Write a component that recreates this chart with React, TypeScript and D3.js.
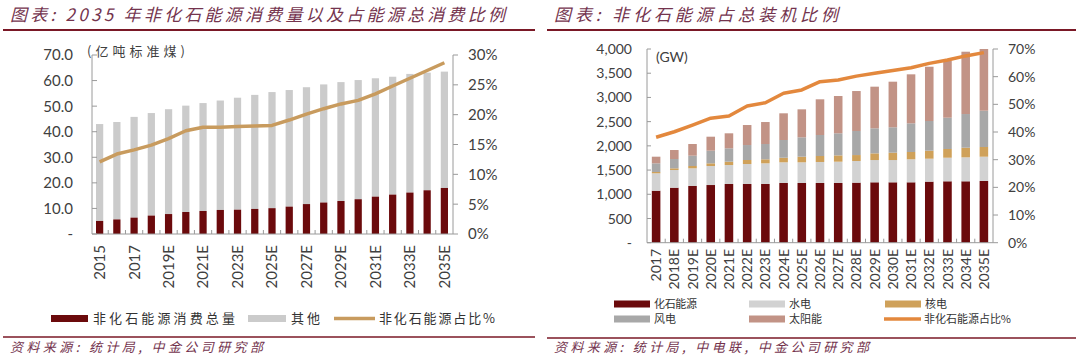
import React from 'react';
import * as d3 from 'd3';

// ---------- Left chart data ----------
const yearsL = ['2015','2016','2017','2018','2019E','2020E','2021E','2022E','2023E','2024E','2025E','2026E','2027E','2028E','2029E','2030E','2031E','2032E','2033E','2034E','2035E'];
const nonFossilL = [5.1,5.7,6.4,7.2,7.8,8.6,9.0,9.4,9.5,9.8,10.1,10.7,11.7,12.3,12.9,13.6,14.6,15.4,16.2,17.1,18.0];
const otherL = [37.9,38.1,39.4,40.1,41.0,41.6,42.2,42.8,43.8,44.6,45.4,45.6,45.7,46.2,46.5,46.6,46.3,46.1,46.4,46.0,45.5];
const shareL = [12.1,13.4,14.1,14.9,16.0,17.3,17.9,17.9,18.0,18.1,18.2,19.1,20.1,21.0,21.8,22.4,23.5,24.8,26.1,27.4,28.7];
const yTicksL = [0,10,20,30,40,50,60,70];
const y2TicksL = [0,5,10,15,20,25,30];

// ---------- Right chart data ----------
const yearsR = ['2017','2018E','2019E','2020E','2021E','2022E','2023E','2024E','2025E','2026E','2027E','2028E','2029E','2030E','2031E','2032E','2033E','2034E','2035E'];
const fossilR = [1074,1136,1171,1191,1212,1212,1212,1233,1233,1233,1233,1240,1247,1247,1247,1261,1268,1268,1275];
const hydroR = [359,365,365,393,392,413,427,427,427,434,440,447,460,460,475,474,487,495,501];
const nuclearR = [27,35,48,55,69,83,83,95,116,123,130,123,138,152,151,165,180,199,200];
const windR = [179,192,213,261,276,309,316,366,400,434,456,497,517,524,592,613,646,695,750];
const solarR = [137,186,241,289,310,413,454,551,578,737,770,825,860,942,1012,1121,1177,1287,1274];
const shareR = [38.1,40.1,42.5,45.0,45.8,49.4,50.6,54.0,55.2,58.2,58.8,60.2,61.2,62.2,63.2,64.8,66.0,67.5,68.7];
const yTicksR = [0,500,1000,1500,2000,2500,3000,3500,4000];
const y2TicksR = [0,10,20,30,40,50,60,70];

const C = {
  dark: '#6B0A0C',
  gray: '#CBCBCB',
  gold: '#C89B5E',
  hydro: '#D2D2D2',
  nuclear: '#CFA15A',
  wind: '#A8A8A8',
  solar: '#C29386',
  orange: '#E3883D',
  axis: '#9A9A9A',
  label: '#404040',
  title: '#74344E',
  rule: '#7A1826',
};
const NUM = 'Lato, "Noto Sans", sans-serif';
const CJK = '"Noto Sans CJK SC", sans-serif';

function LeftChart() {
  const x = d3.scaleBand<string>().domain(yearsL).range([91, 453]).paddingInner(0.58).paddingOuter(0.29);
  const y = d3.scaleLinear().domain([0, 70]).range([234, 55]);
  const y2 = d3.scaleLinear().domain([0, 30]).range([234, 55]);
  const bw = x.bandwidth();
  const cx = (d: string) => (x(d) as number) + bw / 2;
  const line = d3.line<number>().x((_, i) => cx(yearsL[i])).y(d => y2(d));
  const step = x.step();
  return (
    <g>
      {yearsL.map((yr, i) => (
        <g key={yr}>
          <rect x={x(yr)} width={bw} y={y(nonFossilL[i] + otherL[i])} height={y(nonFossilL[i]) - y(nonFossilL[i] + otherL[i])} fill={C.gray} />
          <rect x={x(yr)} width={bw} y={y(nonFossilL[i])} height={y(0) - y(nonFossilL[i])} fill={C.dark} />
        </g>
      ))}
      <line x1={92} x2={92} y1={55} y2={234} stroke={C.axis} />
      <line x1={453} x2={453} y1={55} y2={234} stroke={C.axis} />
      <line x1={92} x2={453} y1={234} y2={234} stroke={C.axis} />
      {yTicksL.map(t => (
        <g key={t}>
          <line x1={92} x2={97} y1={y(t)} y2={y(t)} stroke={C.axis} />
          <text x={73} y={y(t)} dy="0.36em" textAnchor="end" fontFamily={NUM} fontSize={15} fill={C.label}>{t === 0 ? '-' : t.toFixed(1)}</text>
        </g>
      ))}
      {y2TicksL.map(t => (
        <g key={t}>
          <line x1={453} x2={458} y1={y2(t)} y2={y2(t)} stroke={C.axis} />
          <text x={468} y={y2(t)} dy="0.36em" fontFamily={NUM} fontSize={15} fill={C.label}>{t + '%'}</text>
        </g>
      ))}
      {yearsL.map((yr, i) => i > 0 ? (
        <line key={'t' + yr} x1={(x(yr) as number) - (step - bw) / 2} x2={(x(yr) as number) - (step - bw) / 2} y1={234} y2={230} stroke={C.axis} />
      ) : null)}
      {yearsL.map((yr, i) => i % 2 === 0 ? (
        <text key={'l' + yr} transform={`translate(${cx(yr)},245) rotate(-90)`} dy="0.36em" textAnchor="end" fontFamily={NUM} fontSize={15} fill={C.label}>{yr}</text>
      ) : null)}
      <path d={line(shareL) || ''} fill="none" stroke={C.gold} strokeWidth={3.5} strokeLinejoin="round" />
      <text x={87} y={56} fontFamily={CJK} fontSize={13} fill={C.label} textLength={98} lengthAdjust="spacing">(亿吨标准煤)</text>
      <rect x={51} y={315} width={37} height={7} fill={C.dark} />
      <text x={93} y={318.5} dy="0.36em" fontFamily={CJK} fontSize={13} fill="#333" textLength={142} lengthAdjust="spacing">非化石能源消费总量</text>
      <rect x={248} y={315} width={38} height={7} fill={C.gray} />
      <text x={291} y={318.5} dy="0.36em" fontFamily={CJK} fontSize={13} fill="#333" textLength={29} lengthAdjust="spacing">其他</text>
      <line x1={334} x2={375} y1={318.5} y2={318.5} stroke={C.gold} strokeWidth={3.5} />
      <text x={379} y={318.5} dy="0.36em" fontFamily={CJK} fontSize={13} fill="#333" textLength={116} lengthAdjust="spacing">非化石能源占比%</text>
    </g>
  );
}

function RightChart() {
  const x = d3.scaleBand<string>().domain(yearsR).range([647, 993]).paddingInner(0.53).paddingOuter(0.265);
  const y = d3.scaleLinear().domain([0, 4000]).range([242.7, 49]);
  const y2 = d3.scaleLinear().domain([0, 70]).range([242.7, 49]);
  const bw = x.bandwidth();
  const step = x.step();
  const cx = (d: string) => (x(d) as number) + bw / 2;
  const keys = ['fossil', 'hydro', 'nuclear', 'wind', 'solar'];
  const colors: Record<string, string> = { fossil: C.dark, hydro: C.hydro, nuclear: C.nuclear, wind: C.wind, solar: C.solar };
  const rows = yearsR.map((yr, i) => ({ yr, fossil: fossilR[i], hydro: hydroR[i], nuclear: nuclearR[i], wind: windR[i], solar: solarR[i] }));
  const series = d3.stack<any>().keys(keys)(rows);
  const line = d3.line<number>().x((_, i) => cx(yearsR[i])).y(d => y2(d));
  const legend = [
    { k: 'fossil', label: '化石能源', x: 614, y: 304, tl: 43 },
    { k: 'hydro', label: '水电', x: 749, y: 304, tl: 22 },
    { k: 'nuclear', label: '核电', x: 885, y: 304, tl: 22 },
    { k: 'wind', label: '风电', x: 614, y: 319, tl: 22 },
    { k: 'solar', label: '太阳能', x: 749, y: 319, tl: 33 },
  ];
  return (
    <g>
      {series.map(s => (
        <g key={s.key} fill={colors[s.key]}>
          {s.map((d: any) => (
            <rect key={d.data.yr} x={x(d.data.yr)} width={bw} y={y(d[1])} height={y(d[0]) - y(d[1])} />
          ))}
        </g>
      ))}
      <line x1={647} x2={647} y1={49} y2={242.7} stroke={C.axis} />
      <line x1={993} x2={993} y1={49} y2={242.7} stroke={C.axis} />
      <line x1={647} x2={993} y1={242.7} y2={242.7} stroke={C.axis} />
      {yTicksR.map(t => (
        <g key={t}>
          <line x1={647} x2={651} y1={y(t)} y2={y(t)} stroke={C.axis} />
          <text x={632} y={y(t)} dy="0.36em" textAnchor="end" fontFamily={NUM} fontSize={14} fill={C.label}>{t === 0 ? '-' : d3.format(',')(t)}</text>
        </g>
      ))}
      {y2TicksR.map(t => (
        <g key={t}>
          <line x1={993} x2={998} y1={y2(t)} y2={y2(t)} stroke={C.axis} />
          <text x={1008} y={y2(t)} dy="0.36em" fontFamily={NUM} fontSize={14} fill={C.label}>{t + '%'}</text>
        </g>
      ))}
      {yearsR.map((yr, i) => i > 0 ? (
        <line key={'t' + yr} x1={(x(yr) as number) - (step - bw) / 2} x2={(x(yr) as number) - (step - bw) / 2} y1={242.7} y2={238.7} stroke={C.axis} />
      ) : null)}
      {yearsR.map(yr => (
        <text key={'l' + yr} transform={`translate(${cx(yr)},249) rotate(-90)`} dy="0.36em" textAnchor="end" fontFamily={NUM} fontSize={14} fill={C.label}>{yr}</text>
      ))}
      <path d={line(shareR) || ''} fill="none" stroke={C.orange} strokeWidth={3.5} strokeLinejoin="round" />
      <text x={656} y={62} fontFamily={NUM} fontSize={14} fill={C.label}>(GW)</text>
      {legend.map(l => (
        <g key={l.k}>
          <rect x={l.x} y={l.y - 3.5} width={36} height={7} fill={colors[l.k]} />
          <text x={l.x + 40} y={l.y} dy="0.36em" fontFamily={CJK} fontSize={11} fill="#333" textLength={l.tl} lengthAdjust="spacing">{l.label}</text>
        </g>
      ))}
      <line x1={884} x2={921} y1={319} y2={319} stroke={C.orange} strokeWidth={3.5} />
      <text x={924} y={319} dy="0.36em" fontFamily={CJK} fontSize={11} fill="#333" textLength={87} lengthAdjust="spacing">非化石能源占比%</text>
    </g>
  );
}

export default function App() {
  return (
    <svg width={1080} height={357} style={{ position: 'absolute', left: 0, top: 0, background: '#fff' }}>
      <rect width={1080} height={357} fill="#fff" />
      <text x={10} y={21} fontFamily={CJK} fontSize={17} fontStyle="italic" fill={C.title} textLength={495} lengthAdjust="spacing">图表: 2035 年非化石能源消费量以及占能源总消费比例</text>
      <text x={554} y={21} fontFamily={CJK} fontSize={17} fontStyle="italic" fill={C.title} textLength={284} lengthAdjust="spacing">图表: 非化石能源占总装机比例</text>
      <line x1={3} x2={535} y1={30} y2={30} stroke={C.rule} strokeWidth={2} />
      <line x1={547} x2={1076} y1={30} y2={30} stroke={C.rule} strokeWidth={2} />
      <LeftChart />
      <RightChart />
      <line x1={3} x2={535} y1={337} y2={337} stroke={C.rule} strokeWidth={1.5} />
      <line x1={547} x2={1076} y1={338} y2={338} stroke={C.rule} strokeWidth={1.5} />
      <text x={10} y={352} fontFamily={CJK} fontSize={13} fontStyle="italic" fill={C.title} textLength={253} lengthAdjust="spacing">资料来源: 统计局, 中金公司研究部</text>
      <text x={554} y={352} fontFamily={CJK} fontSize={13} fontStyle="italic" fill={C.title} textLength={315} lengthAdjust="spacing">资料来源: 统计局, 中电联, 中金公司研究部</text>
    </svg>
  );
}
